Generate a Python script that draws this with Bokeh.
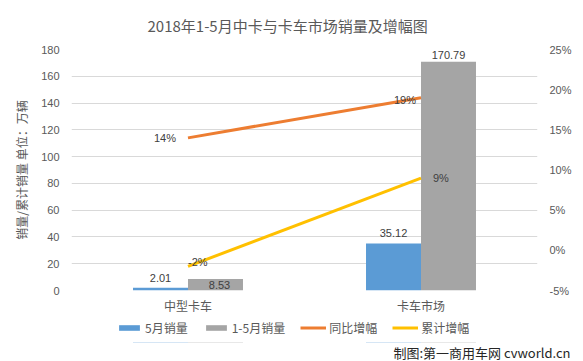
from bokeh.plotting import figure
from bokeh.layouts import column
from bokeh.models import (FactorRange, Range1d, LinearAxis, FixedTicker, NumeralTickFormatter,
                          ColumnDataSource, Legend, LegendItem, LabelSet, Title)
from bokeh.core.properties import value
from bokeh.transform import dodge
from bokeh.embed import file_html
from bokeh.resources import INLINE

# ---- data ----
categories = ["中型卡车", "卡车市场"]
may_sales = [2.01, 35.12]          # 5月销量 (万辆)
ytd_sales = [8.53, 170.79]         # 1-5月销量 (万辆)
yoy_growth = [0.14, 0.19]          # 同比增幅
ytd_growth = [-0.02, 0.09]         # 累计增幅
left_ticks = [0, 20, 40, 60, 80, 100, 120, 140, 160, 180]
right_ticks = [-0.05, 0.0, 0.05, 0.10, 0.15, 0.20, 0.25]
series_names = ["5月销量", "1-5月销量", "同比增幅", "累计增幅"]

title_text = "2018年1-5月中卡与卡车市场销量及增幅图"
ylabel_text = "销量/累计销量 单位：万辆"
credit_text = "制图:第一商用车网 cvworld.cn"

CJK = "Noto Sans CJK SC"
NUM = "Liberation Sans"
BLUE, GRAY, ORANGE, YELLOW = "#5B9BD5", "#A5A5A5", "#ED7D31", "#FFC000"
AXC = "#595959"

src = ColumnDataSource(dict(cat=categories, may=may_sales, ytd=ytd_sales,
                            yoy=yoy_growth, cum=ytd_growth))

p = figure(frame_width=466, frame_height=241, x_range=FactorRange(*categories, range_padding=0),
           y_range=Range1d(0, 180), output_backend="svg", toolbar_location=None,
           min_border_left=71, min_border_right=45, min_border_top=49, min_border_bottom=24)
p.outline_line_color = None
p.extra_y_ranges = {"pct": Range1d(-0.05, 0.25)}

# title
p.title.text = title_text
p.title.align = "left"
p.title.offset = 76
p.title.vertical_align = "top"
p.title.standoff = 24
p.title.text_font = CJK
p.title.text_font_size = "15px"
p.title.text_font_style = "normal"
p.title.text_color = AXC


def style_axis(ax, font, size, standoff):
    ax.axis_line_color = None
    ax.major_tick_line_color = None
    ax.minor_tick_line_color = None
    ax.major_tick_out = 0
    ax.major_tick_in = 0
    ax.minor_tick_out = 0
    ax.minor_tick_in = 0
    ax.major_label_text_font = font
    ax.major_label_text_font_size = size
    ax.major_label_text_color = AXC
    ax.major_label_standoff = standoff


# axes
p.yaxis.ticker = FixedTicker(ticks=left_ticks)
style_axis(p.yaxis[0], NUM, "11px", 12)
p.yaxis.axis_label = ylabel_text
p.yaxis.axis_label_text_font = CJK
p.yaxis.axis_label_text_font_size = "12px"
p.yaxis.axis_label_text_font_style = "normal"
p.yaxis.axis_label_text_color = AXC
p.yaxis.axis_label_standoff = 8

ra = LinearAxis(y_range_name="pct", ticker=FixedTicker(ticks=right_ticks),
                formatter=NumeralTickFormatter(format="0%"))
style_axis(ra, NUM, "11px", 12)
p.add_layout(ra, "right")

style_axis(p.xaxis[0], CJK, "12px", 6)

p.xgrid.grid_line_color = None
p.ygrid.grid_line_color = "#D9D9D9"
p.ygrid.grid_line_width = 1

# bars
BW = 0.236
p.vbar(x=dodge("cat", -BW / 2, range=p.x_range), top="may", width=BW,
       source=src, fill_color=BLUE, line_color=None)
p.vbar(x=dodge("cat", BW / 2, range=p.x_range), top="ytd", width=BW,
       source=src, fill_color=GRAY, line_color=None)

# lines
p.line(x="cat", y="yoy", source=src, y_range_name="pct", line_color=ORANGE, line_width=3)
p.line(x="cat", y="cum", source=src, y_range_name="pct", line_color=YELLOW, line_width=3)

# data labels
LBL = "#404040"
def add_label(cat, dx, val, txt, yr, xo, yo, align, base):
    s = ColumnDataSource(dict(x=[cat], y=[val], t=[txt]))
    kw = dict(x=dodge("x", dx, range=p.x_range), y="y", text="t", source=s,
              x_offset=xo, y_offset=yo, text_align=align,
              text_baseline=base, text_font=value(NUM), text_font_size="11px",
              text_color=LBL)
    if yr:
        kw["y_range_name"] = yr
    p.add_layout(LabelSet(**kw))

may_offsets = [(0, 6), (0, 6)]
ytd_offsets = [(4, -10), (0, 3)]
for c, v, (xo, yo) in zip(categories, may_sales, may_offsets):
    add_label(c, -BW / 2, v, f"{v:.2f}", None, xo, yo, "center", "bottom")
for c, v, (xo, yo) in zip(categories, ytd_sales, ytd_offsets):
    add_label(c, BW / 2, v, f"{v:.2f}", None, xo, yo, "center", "bottom")

yoy_style = [(-12, 0, "right"), (-5, -2, "right")]
cum_style = [(0, 4, "left"), (12, 0, "left")]
for c, v, (xo, yo, al) in zip(categories, yoy_growth, yoy_style):
    add_label(c, 0, v, f"{v:.0%}", "pct", xo, yo, al, "middle")
for c, v, (xo, yo, al) in zip(categories, ytd_growth, cum_style):
    add_label(c, 0, v, f"{v:.0%}", "pct", xo, yo, al, "middle")

# ---- footer strip: legend + credit (same series, drawn out of this strip's view) ----
q = figure(width=582, height=47, x_range=p.x_range, y_range=Range1d(1000, 1001),
           x_axis_type=None, y_axis_type=None, output_backend="svg", toolbar_location=None,
           min_border=0)
q.outline_line_color = None
k1 = q.vbar(x=dodge("cat", -BW / 2, range=p.x_range), top="may", width=BW,
            source=src, fill_color=BLUE, line_color=None)
k2 = q.vbar(x=dodge("cat", BW / 2, range=p.x_range), top="ytd", width=BW,
            source=src, fill_color=GRAY, line_color=None)
k3 = q.line(x="cat", y="yoy", source=src, line_color=ORANGE, line_width=3)
k4 = q.line(x="cat", y="cum", source=src, line_color=YELLOW, line_width=3)

legend = Legend(items=[LegendItem(label=n, renderers=[r])
                       for n, r in zip(series_names, [k1, k2, k3, k4])],
                orientation="horizontal", location=(45, 6), glyph_width=26, glyph_height=7,
                label_height=14, label_standoff=3, spacing=15, padding=0, margin=0,
                label_text_font=CJK, label_text_font_size="12px", label_text_color=AXC,
                border_line_color=None, background_fill_alpha=0)
q.add_layout(legend)

credit = Title(text=credit_text, align="right", offset=-33, vertical_align="top", standoff=0,
               text_font=CJK, text_font_size="13px", text_font_style="normal",
               text_color="#262626")
q.add_layout(credit, "below")

open("out.html", "w").write(file_html(column(p, q, spacing=0), INLINE))
